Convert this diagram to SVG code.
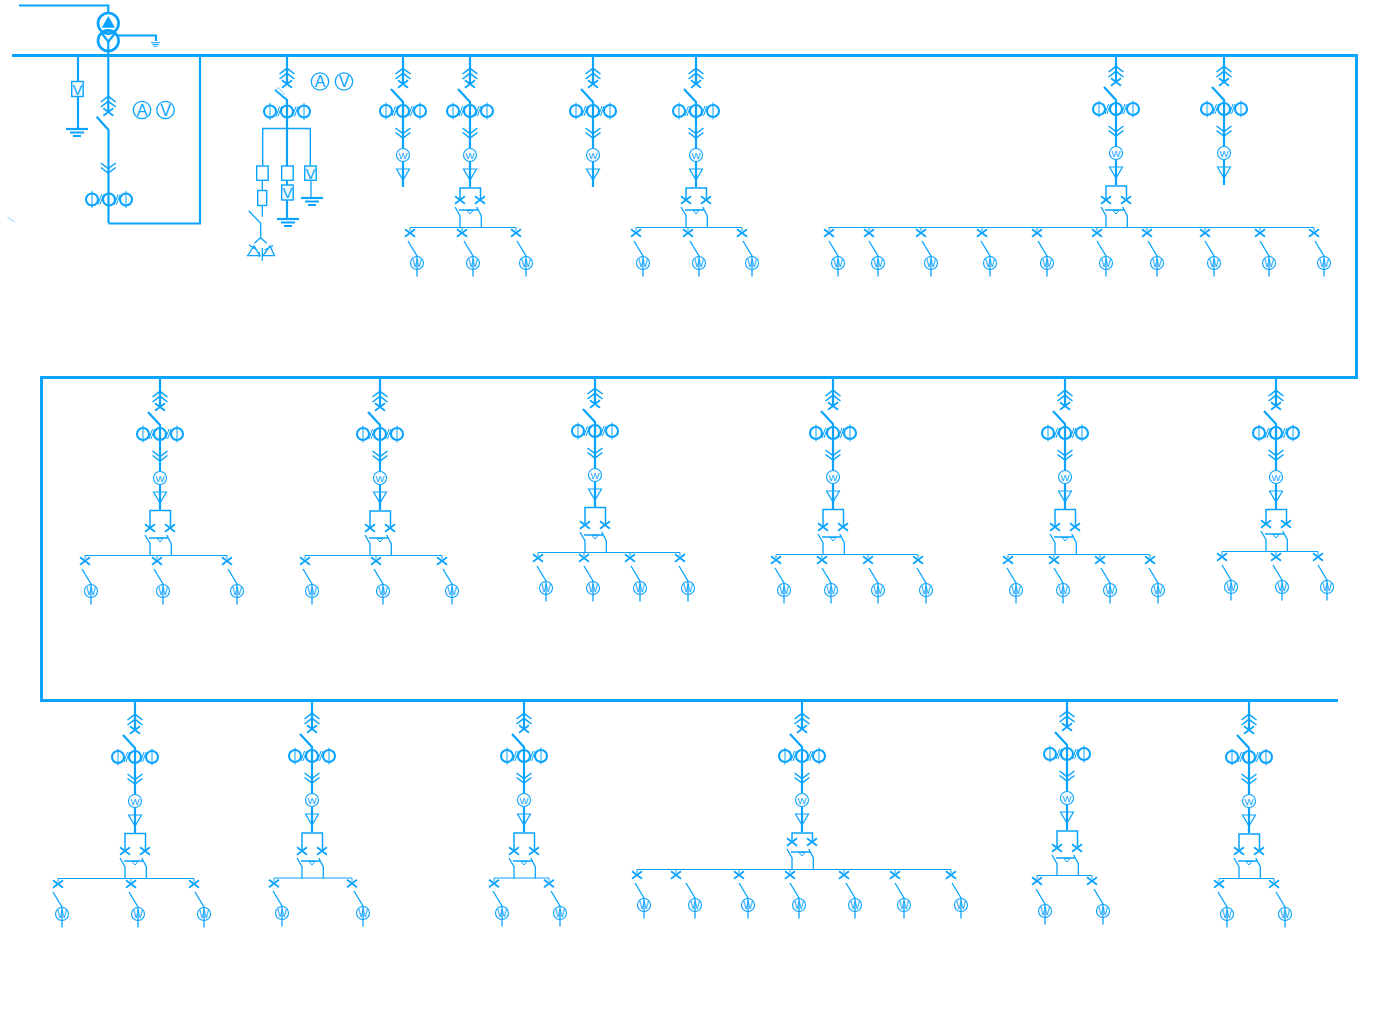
<svg xmlns="http://www.w3.org/2000/svg" width="1381" height="1031" viewBox="0 0 1381 1031">
<style>
svg{background:#fff}
path,circle,line,rect{fill:none;stroke:#0aa3ff;stroke-width:1.3}
.bus{stroke-width:3}
.stem{stroke-width:2.200}
.tb{stroke-width:1.500}
.sub{stroke-width:1}
.ct{stroke-width:2.100}
.hair{stroke-width:1}
.thin{stroke-width:.8;stroke:#5cc2ff}
.wc{fill:#fff;stroke-width:1.100}
.solid{fill:#0aa3ff;stroke:none}
.box{fill:#f4fbff;stroke-width:1.400}
text{font-family:"Liberation Sans",Arial,sans-serif;fill:#0aa3ff;text-anchor:middle}
.w1{font-size:9.500px}
.w2{font-size:10px}
.m{font-size:16px}
.b{font-size:15px}
</style>
<defs>
<g id="up"><path d="M-7.500-10L0-15.700L7.500-10M-7.500-5L0-10.700L7.500-5" style="stroke-width:1.500"/></g>
<g id="cross"><path d="M-5-3.800L5 3.800M5-3.800L-5 3.800" style="stroke-width:1.700"/></g>
<g id="cts">
<circle class="ct" cx="-17" cy="0" r="6"/><circle class="ct" cx="0" cy="0" r="6"/><circle class="ct" cx="17" cy="0" r="6"/>
<path class="hair" d="M-17-8.500V8.500M17-8.500V8.500M-11 5L-7.500-5M-9 5L-5.500-5M5.500 5L9-5M7.500 5L11-5"/>
</g>
<g id="down"><path d="M-7.500 0L0 5.500L7.500 0M-7.500 4.500L0 10L7.500 4.500" style="stroke-width:1.500"/></g>
<g id="head">
<use href="#up"/><use href="#cross"/>
<path class="stem" d="M-12 5L0 18V103"/>
<use href="#cts" y="27"/>
<use href="#down" y="44"/>
<circle class="wc" cx="0" cy="71" r="6.500"/>
<path d="M-6.500 85H6.500L0 96Z" style="stroke-width:1.200"/>
</g>
<g id="tie">
<use href="#cross" x="-10"/><use href="#cross" x="10"/>
<path d="M-15 7L-10 15.700V27.500M6.700 7L11.300 15.700V27.500M-11 10H8"/>
<path d="M-3 10.500H3L0 14Z" class="hair"/>
</g>
<g id="x"><use href="#cross"/><path class="sub" d="M0-5.500V-2"/></g>
<g id="o"><path d="M-9-22L0-7V13.500"/><circle cx="0" cy="0" r="6.500" style="stroke-width:1.100"/></g>
<g id="gnd"><path class="stem" d="M-11 0H11"/><path class="stem" d="M-7 3.500H7M-4 7H4"/></g>
</defs>

<g id="connectors">
<path class="bus" d="M12 55.500H1356.500V377.500H41.500V700.500H1338"/>
<path class="stem" d="M19 5.500H108.300V12"/>
<path class="stem" d="M108.500 223.500H200V55"/>
</g>

<g id="transformer">
<circle style="stroke-width:2.700" cx="108.300" cy="23.300" r="10.300"/>
<circle style="stroke-width:2.700" cx="108.300" cy="40.700" r="10.300"/>
<path class="solid" d="M108.300 16L101.700 27.800H115Z"/>
<path d="M101.700 33.300L108.300 41.700L115 33.300" class="stem"/>
<path class="stem" d="M118 35.500H156V41"/>
<path d="M151 42.700H160M152.300 44.500H158.700M153.500 46.300H157.500" style="stroke-width:1"/>
</g>
<g id="incomer">
<path class="stem" d="M108.300 40V112M96.700 116.700L108.500 130V223"/>
<use href="#up" x="108.300" y="112"/><use href="#cross" x="108.300" y="112"/>
<use href="#down" x="108.300" y="163"/>
<use href="#cts" x="109" y="199.500"/>
<circle cx="142" cy="110" r="8.700"/><text class="m" x="142" y="115.500">A</text>
<circle cx="165.500" cy="110" r="8.700"/><text class="m" x="165.500" y="115.500">V</text>
<path class="thin" d="M7.500 217L14.500 222"/>
</g>
<g id="pt-left">
<path class="stem" d="M78 55V128"/>
<rect class="box" x="71.700" y="81.500" width="11.500" height="15"/><text class="b" x="77.500" y="94.500">V</text>
<use href="#gnd" x="77" y="129"/>
</g>
<g id="pt-panel">
<path class="stem" d="M287 55V84M287 99V218"/>
<use href="#up" x="287" y="84"/><use href="#cross" x="287" y="84"/>
<path class="ct" d="M275 90L287 100"/><path class="thin" d="M278 87.500L284.500 93.500L281.500 96.500L275.500 90.500Z"/>
<use href="#cts" x="287" y="111.500"/>
<path d="M262.700 165.700V128.500H310.300V165.700" style="stroke-width:1.400"/>
<rect class="box" x="256.700" y="166" width="11.500" height="14.300" style="fill:#fff"/>
<rect class="box" x="281.700" y="166" width="11.500" height="14.300" style="fill:#fff"/>
<rect class="box" x="304.700" y="166" width="11.500" height="14.300"/><text class="b" x="310.500" y="178.500">V</text>
<path d="M262.300 180V216.700M311 180V198"/>
<rect class="box" x="257.700" y="190.500" width="9" height="15"/>
<rect class="box" x="281.700" y="185" width="11.500" height="15"/><text class="b" x="287.500" y="198">V</text>
<use href="#gnd" x="288" y="219"/><use href="#gnd" x="312" y="198"/>
<path d="M248.700 210.700L260.700 223.300V237.700M254.300 243.300L260.500 237.700L266.700 243.300M249 245L257 250M273 245.700L264.500 250M247.700 255.700L254 246L260 255.700ZM263 255.700L270 246L274.500 255.700ZM262.300 248V261M259.300 252V257"/>
<circle cx="320" cy="81.500" r="8.700"/><text class="m" x="320" y="87">A</text>
<circle cx="344" cy="81.500" r="8.700"/><text class="m" x="344" y="87">V</text>
</g>

<g id="f403"><path class="stem" d="M403 55V84"/><use href="#head" x="403" y="84"/><text class="w1" x="403" y="158.500">W</text></g>
<g id="f470"><path class="stem" d="M470 55V84"/><use href="#head" x="470" y="84"/><text class="w1" x="470" y="158.500">W</text>
<path class="tb" d="M460 200V188H480.500V200"/><use href="#tie" x="470" y="200"/>
<path class="sub" d="M410 227.500H516"/>
<use href="#x" x="410" y="233"/><use href="#x" x="462" y="233"/><use href="#x" x="516" y="233"/>
<use href="#o" x="417" y="263"/><text class="w2" x="417" y="266.500">W</text>
<use href="#o" x="473" y="263"/><text class="w2" x="473" y="266.500">W</text>
<use href="#o" x="526" y="263"/><text class="w2" x="526" y="266.500">W</text></g>
<g id="f593"><path class="stem" d="M593 55V84"/><use href="#head" x="593" y="84"/><text class="w1" x="593" y="158.500">W</text></g>
<g id="f696"><path class="stem" d="M696 55V84"/><use href="#head" x="696" y="84"/><text class="w1" x="696" y="158.500">W</text>
<path class="tb" d="M686 200V188H706.500V200"/><use href="#tie" x="696" y="200"/>
<path class="sub" d="M636 227.500H742"/>
<use href="#x" x="636" y="233"/><use href="#x" x="688" y="233"/><use href="#x" x="742" y="233"/>
<use href="#o" x="643" y="263"/><text class="w2" x="643" y="266.500">W</text>
<use href="#o" x="699" y="263"/><text class="w2" x="699" y="266.500">W</text>
<use href="#o" x="752" y="263"/><text class="w2" x="752" y="266.500">W</text></g>
<g id="f1116"><path class="stem" d="M1116 55V82"/><use href="#head" x="1116" y="82"/><text class="w1" x="1116" y="156.500">W</text>
<path class="tb" d="M1106 200V186H1126.500V200"/><use href="#tie" x="1116" y="200"/>
<path class="sub" d="M829 227.500H1314"/>
<use href="#x" x="829" y="233"/><use href="#x" x="869" y="233"/><use href="#x" x="921" y="233"/><use href="#x" x="982" y="233"/><use href="#x" x="1037" y="233"/><use href="#x" x="1097" y="233"/><use href="#x" x="1147" y="233"/><use href="#x" x="1205" y="233"/><use href="#x" x="1260" y="233"/><use href="#x" x="1314" y="233"/>
<use href="#o" x="838" y="263"/><text class="w2" x="838" y="266.500">W</text>
<use href="#o" x="878" y="263"/><text class="w2" x="878" y="266.500">W</text>
<use href="#o" x="931" y="263"/><text class="w2" x="931" y="266.500">W</text>
<use href="#o" x="990" y="263"/><text class="w2" x="990" y="266.500">W</text>
<use href="#o" x="1047" y="263"/><text class="w2" x="1047" y="266.500">W</text>
<use href="#o" x="1106" y="263"/><text class="w2" x="1106" y="266.500">W</text>
<use href="#o" x="1157" y="263"/><text class="w2" x="1157" y="266.500">W</text>
<use href="#o" x="1214" y="263"/><text class="w2" x="1214" y="266.500">W</text>
<use href="#o" x="1269" y="263"/><text class="w2" x="1269" y="266.500">W</text>
<use href="#o" x="1324" y="263"/><text class="w2" x="1324" y="266.500">W</text></g>
<g id="f1224"><path class="stem" d="M1224 55V82"/><use href="#head" x="1224" y="82"/><text class="w1" x="1224" y="156.500">W</text></g>

<g id="f160"><path class="stem" d="M160 377V407"/><use href="#head" x="160" y="407"/><text class="w1" x="160" y="481.500">W</text>
<path class="tb" d="M150 528V510.500H170.500V528"/><use href="#tie" x="160" y="528"/>
<path class="sub" d="M85 555.500H227"/>
<use href="#x" x="85" y="561"/><use href="#x" x="157" y="561"/><use href="#x" x="227" y="561"/>
<use href="#o" x="91" y="591"/><text class="w2" x="91" y="594.500">W</text>
<use href="#o" x="163" y="591"/><text class="w2" x="163" y="594.500">W</text>
<use href="#o" x="237" y="591"/><text class="w2" x="237" y="594.500">W</text></g>
<g id="f380"><path class="stem" d="M380 377V407"/><use href="#head" x="380" y="407"/><text class="w1" x="380" y="481.500">W</text>
<path class="tb" d="M370 528V511H390.500V528"/><use href="#tie" x="380" y="528"/>
<path class="sub" d="M305 555.500H442"/>
<use href="#x" x="305" y="561"/><use href="#x" x="376" y="561"/><use href="#x" x="442" y="561"/>
<use href="#o" x="312" y="591"/><text class="w2" x="312" y="594.500">W</text>
<use href="#o" x="383" y="591"/><text class="w2" x="383" y="594.500">W</text>
<use href="#o" x="452" y="591"/><text class="w2" x="452" y="594.500">W</text></g>
<g id="f595"><path class="stem" d="M595 377V404"/><use href="#head" x="595" y="404"/><text class="w1" x="595" y="478.500">W</text>
<path class="tb" d="M585 525V507.500H605.500V525"/><use href="#tie" x="595" y="525"/>
<path class="sub" d="M538 552.500H680"/>
<use href="#x" x="538" y="558"/><use href="#x" x="584" y="558"/><use href="#x" x="630" y="558"/><use href="#x" x="680" y="558"/>
<use href="#o" x="546" y="588"/><text class="w2" x="546" y="591.500">W</text>
<use href="#o" x="593" y="588"/><text class="w2" x="593" y="591.500">W</text>
<use href="#o" x="640" y="588"/><text class="w2" x="640" y="591.500">W</text>
<use href="#o" x="688" y="588"/><text class="w2" x="688" y="591.500">W</text></g>
<g id="f833"><path class="stem" d="M833 377V406"/><use href="#head" x="833" y="406"/><text class="w1" x="833" y="480.500">W</text>
<path class="tb" d="M823 527V509.500H843.500V527"/><use href="#tie" x="833" y="527"/>
<path class="sub" d="M776 554.500H918"/>
<use href="#x" x="776" y="560"/><use href="#x" x="822" y="560"/><use href="#x" x="868" y="560"/><use href="#x" x="918" y="560"/>
<use href="#o" x="784" y="590"/><text class="w2" x="784" y="593.500">W</text>
<use href="#o" x="831" y="590"/><text class="w2" x="831" y="593.500">W</text>
<use href="#o" x="878" y="590"/><text class="w2" x="878" y="593.500">W</text>
<use href="#o" x="926" y="590"/><text class="w2" x="926" y="593.500">W</text></g>
<g id="f1065"><path class="stem" d="M1065 377V406"/><use href="#head" x="1065" y="406"/><text class="w1" x="1065" y="480.500">W</text>
<path class="tb" d="M1055 527V509.500H1075.500V527"/><use href="#tie" x="1065" y="527"/>
<path class="sub" d="M1008 554.500H1150"/>
<use href="#x" x="1008" y="560"/><use href="#x" x="1054" y="560"/><use href="#x" x="1100" y="560"/><use href="#x" x="1150" y="560"/>
<use href="#o" x="1016" y="590"/><text class="w2" x="1016" y="593.500">W</text>
<use href="#o" x="1063" y="590"/><text class="w2" x="1063" y="593.500">W</text>
<use href="#o" x="1110" y="590"/><text class="w2" x="1110" y="593.500">W</text>
<use href="#o" x="1158" y="590"/><text class="w2" x="1158" y="593.500">W</text></g>
<g id="f1276"><path class="stem" d="M1276 377V406"/><use href="#head" x="1276" y="406"/><text class="w1" x="1276" y="480.500">W</text>
<path class="tb" d="M1266 524V509.500H1286.500V524"/><use href="#tie" x="1276" y="524"/>
<path class="sub" d="M1222 551.500H1318"/>
<use href="#x" x="1222" y="557"/><use href="#x" x="1276" y="557"/><use href="#x" x="1318" y="557"/>
<use href="#o" x="1231" y="587"/><text class="w2" x="1231" y="590.500">W</text>
<use href="#o" x="1282" y="587"/><text class="w2" x="1282" y="590.500">W</text>
<use href="#o" x="1327" y="587"/><text class="w2" x="1327" y="590.500">W</text></g>

<g id="f135"><path class="stem" d="M135 700V730"/><use href="#head" x="135" y="730"/><text class="w1" x="135" y="804.500">W</text>
<path class="tb" d="M125 851V833.500H145.500V851"/><use href="#tie" x="135" y="851"/>
<path class="sub" d="M58 878.500H194"/>
<use href="#x" x="58" y="884"/><use href="#x" x="131" y="884"/><use href="#x" x="194" y="884"/>
<use href="#o" x="62" y="914"/><text class="w2" x="62" y="917.500">W</text>
<use href="#o" x="138" y="914"/><text class="w2" x="138" y="917.500">W</text>
<use href="#o" x="204" y="914"/><text class="w2" x="204" y="917.500">W</text></g>
<g id="f312"><path class="stem" d="M312 700V729"/><use href="#head" x="312" y="729"/><text class="w1" x="312" y="803.500">W</text>
<path class="tb" d="M302 851V833H322.500V851"/><use href="#tie" x="312" y="851"/>
<path class="sub" d="M274 878H352"/>
<use href="#x" x="274" y="883.500"/><use href="#x" x="352" y="883.500"/>
<use href="#o" x="282" y="913"/><text class="w2" x="282" y="916.500">W</text>
<use href="#o" x="363" y="913"/><text class="w2" x="363" y="916.500">W</text></g>
<g id="f524"><path class="stem" d="M524 700V729"/><use href="#head" x="524" y="729"/><text class="w1" x="524" y="803.500">W</text>
<path class="tb" d="M514 851V833H534.500V851"/><use href="#tie" x="524" y="851"/>
<path class="sub" d="M494 878H549"/>
<use href="#x" x="494" y="883.500"/><use href="#x" x="549" y="883.500"/>
<use href="#o" x="502" y="913"/><text class="w2" x="502" y="916.500">W</text>
<use href="#o" x="560" y="913"/><text class="w2" x="560" y="916.500">W</text></g>
<g id="f802"><path class="stem" d="M802 700V729"/><use href="#head" x="802" y="729"/><text class="w1" x="802" y="803.500">W</text>
<path class="tb" d="M792 842V833H812.500V842"/><use href="#tie" x="802" y="842"/>
<path class="sub" d="M637 869.500H951"/>
<use href="#x" x="637" y="875"/><use href="#x" x="676" y="875"/><use href="#x" x="739" y="875"/><use href="#x" x="790" y="875"/><use href="#x" x="844" y="875"/><use href="#x" x="895" y="875"/><use href="#x" x="951" y="875"/>
<use href="#o" x="644" y="905"/><text class="w2" x="644" y="908.500">W</text>
<use href="#o" x="695" y="905"/><text class="w2" x="695" y="908.500">W</text>
<use href="#o" x="748" y="905"/><text class="w2" x="748" y="908.500">W</text>
<use href="#o" x="799" y="905"/><text class="w2" x="799" y="908.500">W</text>
<use href="#o" x="855" y="905"/><text class="w2" x="855" y="908.500">W</text>
<use href="#o" x="904" y="905"/><text class="w2" x="904" y="908.500">W</text>
<use href="#o" x="961" y="905"/><text class="w2" x="961" y="908.500">W</text></g>
<g id="f1067"><path class="stem" d="M1067 700V727"/><use href="#head" x="1067" y="727"/><text class="w1" x="1067" y="801.500">W</text>
<path class="tb" d="M1057 848V831H1077.500V848"/><use href="#tie" x="1067" y="848"/>
<path class="sub" d="M1037 875.500H1092"/>
<use href="#x" x="1037" y="881"/><use href="#x" x="1092" y="881"/>
<use href="#o" x="1045" y="911"/><text class="w2" x="1045" y="914.500">W</text>
<use href="#o" x="1103" y="911"/><text class="w2" x="1103" y="914.500">W</text></g>
<g id="f1249"><path class="stem" d="M1249 700V730"/><use href="#head" x="1249" y="730"/><text class="w1" x="1249" y="804.500">W</text>
<path class="tb" d="M1239 851V834H1259.500V851"/><use href="#tie" x="1249" y="851"/>
<path class="sub" d="M1219 878.500H1274"/>
<use href="#x" x="1219" y="884"/><use href="#x" x="1274" y="884"/>
<use href="#o" x="1227" y="914"/><text class="w2" x="1227" y="917.500">W</text>
<use href="#o" x="1285" y="914"/><text class="w2" x="1285" y="917.500">W</text></g>
</svg>
